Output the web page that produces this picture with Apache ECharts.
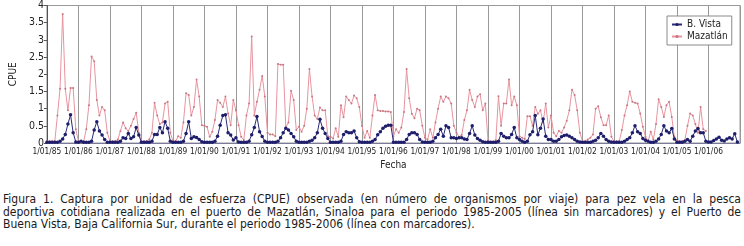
<!DOCTYPE html>
<html>
<head>
<meta charset="utf-8">
<script src="https://cdn.jsdelivr.net/npm/echarts@6/dist/echarts.min.js"></script>
<style>
  html, body { margin: 0; padding: 0; background: #fff; }
  #wrap { position: relative; width: 744px; height: 246px; overflow: hidden; }
  #chart { position: absolute; left: 0; top: 0; width: 744px; height: 182px; }
  #caption {
    position: absolute; left: 3px; top: 193px; width: 738px;
    font-family: 'DejaVu Sans Condensed', 'Liberation Sans', sans-serif;
    font-size: 12px; line-height: 12.7px; color: #1a1a1a;
  }
  #caption div { white-space: nowrap; }
  #caption .j { text-align: justify; text-align-last: justify; white-space: normal; }
</style>
</head>
<body>
<div id="wrap">
  <div id="chart"></div>
  <div id="caption">
    <div class="j">Figura 1. Captura por unidad de esfuerza (CPUE) observada (en número de organismos por viaje) para pez vela en la pesca</div>
    <div class="j">deportiva cotidiana realizada en el puerto de Mazatlán, Sinaloa para el periodo 1985-2005 (línea sin marcadores) y el Puerto de</div>
    <div>Buena Vista, Baja California Sur, durante el periodo 1985-2006 (línea con marcadores).</div>
  </div>
</div>
<script>
// años (cada uno con 12 valores mensuales)
const years = [1985, 1986, 1987, 1988, 1989, 1990, 1991, 1992, 1993, 1994, 1995,
  1996, 1997, 1998, 1999, 2000, 2001, 2002, 2003, 2004, 2005, 2006]
const yearLabels = ['1/01/85', '1/01/86', '1/01/87', '1/01/88', '1/01/89', '1/01/90',
  '1/01/91', '1/01/92', '1/01/93', '1/01/94', '1/01/95', '1/01/96', '1/01/97',
  '1/01/98', '1/01/99', '1/01/00', '1/01/01', '1/01/02', '1/01/03', '1/01/04',
  '1/01/05', '1/01/06']
const cpueTicks = [0, 0.5, 1, 1.5, 2, 2.5, 3, 3.5, 4]

// B. Vista 1985-2006
const bVista = [
  [0.02, 0.02, 0.02, 0.02, 0.02, 0.05, 0.12, 0.25, 0.55, 0.82, 0.30, 0.03],
  [0.02, 0.05, 0.02, 0.02, 0.02, 0.05, 0.38, 0.62, 0.35, 0.23, 0.10, 0.02],
  [0.02, 0.02, 0.02, 0.02, 0.05, 0.15, 0.13, 0.28, 0.13, 0.18, 0.45, 0.23],
  [0.02, 0.02, 0.02, 0.02, 0.05, 0.25, 0.25, 0.45, 0.30, 0.62, 0.43, 0.05],
  [0.02, 0.02, 0.02, 0.02, 0.05, 0.28, 0.62, 0.13, 0.18, 0.16, 0.10, 0.04],
  [0.02, 0.02, 0.02, 0.02, 0.05, 0.20, 0.52, 0.80, 0.82, 0.30, 0.23, 0.09],
  [0.15, 0.03, 0.02, 0.02, 0.02, 0.05, 0.24, 0.45, 0.77, 0.33, 0.19, 0.05],
  [0.02, 0.02, 0.02, 0.02, 0.05, 0.15, 0.30, 0.43, 0.38, 0.28, 0.18, 0.05],
  [0.02, 0.02, 0.02, 0.02, 0.05, 0.08, 0.15, 0.30, 0.69, 0.43, 0.28, 0.13],
  [0.02, 0.02, 0.02, 0.02, 0.05, 0.25, 0.33, 0.30, 0.30, 0.35, 0.15, 0.04],
  [0.02, 0.02, 0.02, 0.02, 0.05, 0.10, 0.24, 0.33, 0.43, 0.49, 0.52, 0.52],
  [0.02, 0.02, 0.02, 0.02, 0.02, 0.10, 0.25, 0.30, 0.30, 0.25, 0.10, 0.03],
  [0.02, 0.02, 0.02, 0.05, 0.15, 0.25, 0.40, 0.20, 0.50, 0.45, 0.15, 0.15],
  [0.13, 0.15, 0.15, 0.12, 0.10, 0.28, 0.50, 0.23, 0.13, 0.08, 0.04, 0.02],
  [0.02, 0.02, 0.02, 0.02, 0.05, 0.28, 0.20, 0.15, 0.15, 0.25, 0.45, 0.15],
  [0.10, 0.05, 0.02, 0.05, 0.24, 0.33, 0.80, 0.24, 0.43, 0.70, 0.20, 0.10],
  [0.10, 0.05, 0.05, 0.10, 0.18, 0.22, 0.23, 0.20, 0.15, 0.10, 0.05, 0.03],
  [0.02, 0.02, 0.02, 0.02, 0.05, 0.08, 0.15, 0.28, 0.20, 0.10, 0.05, 0.03],
  [0.02, 0.02, 0.02, 0.02, 0.05, 0.10, 0.15, 0.30, 0.50, 0.33, 0.28, 0.13],
  [0.08, 0.05, 0.02, 0.02, 0.05, 0.12, 0.25, 0.50, 0.35, 0.30, 0.42, 0.12],
  [0.02, 0.02, 0.02, 0.05, 0.10, 0.05, 0.20, 0.35, 0.42, 0.30, 0.30, 0.05],
  [0.03, 0.03, 0.07, 0.12, 0.17, 0.08, 0.06, 0.12, 0.15, 0.12, 0.27, 0.03],
]

// Mazatlán 1985-2005
const mazatlan = [
  [0.05, 0.05, 0.05, 0.05, 0.80, 1.58, 3.75, 1.58, 0.95, 1.60, 1.60, 0.40],
  [0.05, 0.05, 0.05, 0.40, 1.10, 2.52, 2.38, 1.25, 0.80, 1.05, 0.95, 0.30],
  [0.05, 0.05, 0.05, 0.10, 0.35, 0.60, 0.43, 0.35, 0.50, 0.70, 0.88, 0.30],
  [0.05, 0.05, 0.05, 0.10, 0.30, 1.17, 0.80, 0.55, 0.60, 1.15, 1.20, 0.30],
  [0.05, 0.05, 0.20, 0.15, 0.60, 1.45, 1.40, 0.80, 1.05, 1.85, 1.35, 0.52],
  [0.50, 0.47, 0.18, 0.33, 0.67, 1.25, 1.17, 1.05, 1.35, 0.86, 0.52, 1.25],
  [0.95, 0.52, 0.18, 0.09, 0.80, 1.15, 3.10, 0.80, 1.20, 1.55, 1.95, 1.35],
  [0.30, 0.25, 0.25, 0.20, 2.30, 2.28, 2.28, 0.45, 0.60, 1.52, 1.25, 0.38],
  [0.47, 0.33, 0.50, 1.00, 2.15, 1.35, 0.80, 0.70, 1.03, 0.95, 0.95, 0.20],
  [0.18, 0.13, 0.43, 0.18, 1.10, 0.75, 1.35, 1.25, 1.15, 1.38, 1.30, 1.05],
  [0.50, 0.15, 0.35, 0.15, 0.80, 1.40, 0.95, 0.93, 0.93, 0.92, 0.92, 0.90],
  [0.20, 0.40, 0.30, 0.45, 0.90, 2.15, 1.30, 0.85, 0.72, 1.00, 0.95, 0.50],
  [0.15, 0.10, 0.40, 0.15, 0.60, 1.00, 1.35, 1.20, 1.35, 1.30, 1.15, 0.50],
  [0.30, 0.18, 0.23, 0.67, 0.95, 1.55, 1.25, 1.05, 1.35, 1.42, 0.95, 1.15],
  [0.08, 0.04, 0.04, 0.08, 1.36, 0.50, 1.15, 1.15, 1.85, 1.10, 1.35, 1.10],
  [0.20, 0.15, 0.12, 0.78, 0.78, 0.50, 1.05, 0.85, 0.95, 0.60, 1.15, 0.45],
  [0.80, 0.30, 0.20, 0.35, 0.30, 0.45, 0.65, 0.95, 1.55, 1.40, 0.95, 0.30],
  [0.05, 0.05, 0.10, 0.15, 0.25, 1.00, 1.07, 0.75, 0.52, 0.52, 0.80, 0.18],
  [0.05, 0.05, 0.05, 0.38, 0.80, 1.10, 1.50, 1.20, 1.17, 1.15, 0.86, 0.47],
  [0.18, 0.05, 0.33, 0.10, 0.55, 1.27, 1.05, 0.76, 1.10, 1.20, 0.76, 0.18],
  [0.08, 0.05, 0.05, 0.08, 0.50, 0.86, 0.80, 0.55, 0.30, 1.05, 0.40, 0.35],
]

// cada mes se coloca en año + mes/12 (enero sobre la línea del año)
function toPoints(rows) {
  const out = []
  rows.forEach((row, i) => {
    row.forEach((v, m) => out.push([years[i] + m / 12, v]))
  })
  return out
}

const FONT = "'DejaVu Sans Condensed', 'Liberation Sans', sans-serif"
const chart = echarts.init(document.getElementById('chart'))

chart.setOption({
  animation: false,
  textStyle: { fontFamily: FONT },
  grid: {
    left: 23,
    right: 4,
    top: 5,
    bottom: 39,
    show: true,
    borderColor: '#9a9a9a',
    borderWidth: 1,
  },
  legend: {
    left: 667,
    top: 16,
    orient: 'vertical',
    padding: [3, 4, 3, 4],
    itemGap: 1,
    itemWidth: 10,
    itemHeight: 4,
    backgroundColor: '#fff',
    borderColor: '#8a8a8a',
    borderWidth: 1,
    textStyle: { fontFamily: FONT, fontSize: 10, color: '#222', lineHeight: 11 },
    data: ['B. Vista', 'Mazatlán'],
  },
  xAxis: {
    type: 'value',
    min: years[0],
    max: years[years.length - 1] + 1,
    interval: 1,
    name: 'Fecha',
    nameLocation: 'middle',
    nameGap: 17,
    nameTextStyle: { fontFamily: FONT, fontSize: 10, color: '#222' },
    axisLine: { show: true, lineStyle: { color: '#7a7a9a', width: 1 } },
    axisTick: { show: false },
    axisLabel: {
      fontFamily: FONT,
      fontSize: 8.3,
      color: '#222',
      margin: 5,
      hideOverlap: false,
      showMinLabel: true,
      showMaxLabel: true,
      formatter: v => yearLabels[Math.round(v) - years[0]] || '',
    },
    splitLine: { show: true, lineStyle: { color: '#999', width: 1 } },
  },
  yAxis: {
    type: 'value',
    min: cpueTicks[0],
    max: cpueTicks[cpueTicks.length - 1],
    interval: 0.5,
    name: 'CPUE',
    nameLocation: 'middle',
    nameGap: 13,
    nameTextStyle: { fontFamily: FONT, fontSize: 10, color: '#222' },
    axisLine: { show: true, lineStyle: { color: '#555', width: 1 } },
    axisTick: { show: true, length: 3, lineStyle: { color: '#555' } },
    axisLabel: { fontFamily: FONT, fontSize: 10.5, color: '#222', margin: 3 },
    splitLine: { show: false },
  },
  series: [
    {
      name: 'B. Vista',
      type: 'line',
      z: 3,
      symbol: 'circle',
      symbolSize: 3.5,
      showAllSymbol: true,
      color: '#1e1e6b',
      lineStyle: { width: 1, color: '#2a2a78' },
      itemStyle: { color: '#1e1e6b' },
      data: toPoints(bVista),
    },
    {
      name: 'Mazatlán',
      type: 'line',
      z: 2,
      symbol: 'circle',
      symbolSize: 2,
      showAllSymbol: true,
      color: '#e5909d',
      lineStyle: { width: 1, color: '#e8949f' },
      itemStyle: { color: '#c77884' },
      data: toPoints(mazatlan),
    },
  ],
})
</script>
</body>
</html>
